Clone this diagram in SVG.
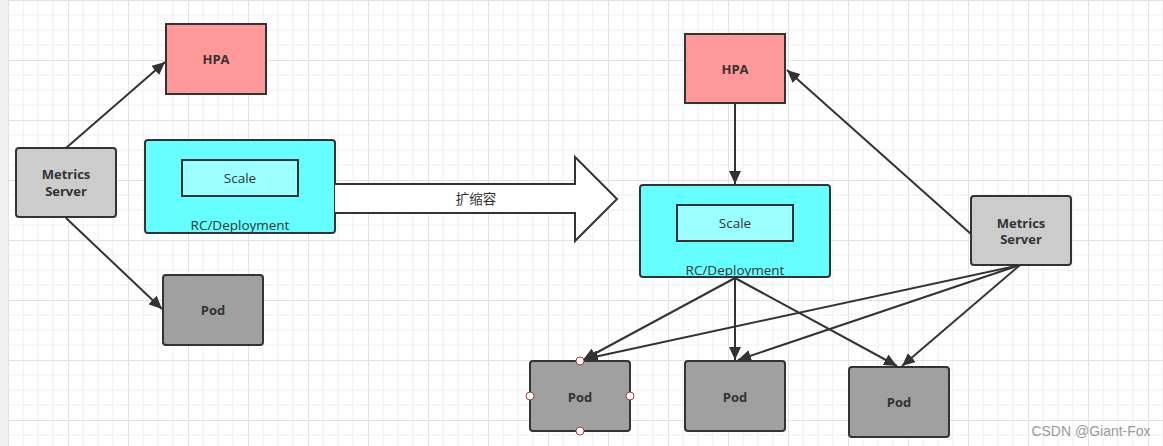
<svg xmlns="http://www.w3.org/2000/svg" width="1163" height="446" viewBox="0 0 1163 446">
<style>
.box{stroke:#333;stroke-width:2}
.hpa{fill:#ff9999}
.ms{fill:#cccccc}
.rc{fill:#66ffff}
.sc{fill:#99ffff}
.pod{fill:#a0a0a0}
.b{font-family:"Open Sans","Liberation Sans","Noto Sans CJK SC",sans-serif;font-size:13px;font-weight:bold;fill:#333;text-anchor:middle}
.n{font-family:"Open Sans","Liberation Sans","Noto Sans CJK SC",sans-serif;font-size:13.5px;fill:#333;text-anchor:middle}
.c{stroke:#333;stroke-width:2;fill:none}
.h{fill:#fff;stroke:#b03a3a;stroke-width:1}
</style>
<defs>
<pattern id="grid" patternUnits="userSpaceOnUse" x="8" y="0" width="60" height="60">
<path d="M15 0V60M30 0V60M45 0V60M0 15H60M0 30H60M0 45H60" stroke="#efefef" stroke-width="1" fill="none"/>
<path d="M0.5 0V60M0 0.5H60" stroke="#e2e2e2" stroke-width="1" fill="none"/>
</pattern>
<marker id="arr" markerUnits="userSpaceOnUse" markerWidth="14" markerHeight="12" refX="13" refY="6" orient="auto">
<path d="M0 0L13 6L0 12Z" fill="#333"/>
</marker>
</defs>
<rect width="1163" height="446" fill="#fff"/>
<rect width="1163" height="446" fill="url(#grid)"/>
<rect x="0" y="0" width="8" height="446" fill="#f0f0f0"/>

<g id="connectors">
<line class="c" x1="66" y1="148" x2="165" y2="62" marker-end="url(#arr)"/>
<line class="c" x1="66" y1="218" x2="162" y2="309" marker-end="url(#arr)"/>
<line class="c" x1="735" y1="103" x2="735" y2="184" marker-end="url(#arr)"/>
<line class="c" x1="971" y1="234" x2="787" y2="70" marker-end="url(#arr)"/>
<line class="c" x1="735" y1="278" x2="583" y2="360" marker-end="url(#arr)"/>
<line class="c" x1="735" y1="278" x2="735" y2="360" marker-end="url(#arr)"/>
<line class="c" x1="735" y1="278" x2="897" y2="366" marker-end="url(#arr)"/>
<line class="c" x1="1020" y1="265" x2="585" y2="359" marker-end="url(#arr)"/>
<line class="c" x1="1020" y1="265" x2="738" y2="360" marker-end="url(#arr)"/>
<line class="c" x1="1020" y1="265" x2="902" y2="366" marker-end="url(#arr)"/>
</g>

<g id="hpa-left"><rect class="box hpa" x="166" y="24" width="100" height="70"/><text class="b" x="216" y="64">HPA</text></g>
<g id="metrics-left"><rect class="box ms" x="16" y="148" width="100" height="69" rx="3"/><text class="b" x="66" y="179">Metrics</text><text class="b" x="66" y="196">Server</text></g>
<g id="rc-left"><rect class="box rc" x="145" y="140" width="190" height="93" rx="3"/><text class="n" x="240" y="230">RC/Deployment</text>
<g id="scale-left"><rect class="box sc" x="182" y="160" width="116" height="36"/><text class="n" x="240" y="183">Scale</text></g></g>
<g id="pod-left"><rect class="box pod" x="163" y="275" width="100" height="70" rx="3"/><text class="b" x="213" y="315">Pod</text></g>

<g id="scale-arrow"><path class="c" d="M335 184H575V157L617 199L575 241V213H335" style="fill:#fff"/><text class="n" x="476" y="204">扩缩容</text></g>

<g id="hpa-right"><rect class="box hpa" x="685" y="34" width="100" height="69"/><text class="b" x="735" y="74">HPA</text></g>
<g id="rc-right"><rect class="box rc" x="640" y="185" width="190" height="92" rx="3"/><text class="n" x="735" y="275">RC/Deployment</text>
<g id="scale-right"><rect class="box sc" x="677" y="205" width="116" height="36"/><text class="n" x="735" y="228">Scale</text></g></g>
<g id="metrics-right"><rect class="box ms" x="971" y="196" width="100" height="69" rx="3"/><text class="b" x="1021" y="228">Metrics</text><text class="b" x="1021" y="244">Server</text></g>
<g id="pod-1"><rect class="box pod" x="530" y="361" width="100" height="70" rx="3"/><text class="b" x="580" y="402">Pod</text>
<circle class="h" cx="580" cy="361" r="4"/><circle class="h" cx="530" cy="396" r="4"/><circle class="h" cx="630" cy="396" r="4"/><circle class="h" cx="580" cy="431" r="4"/></g>
<g id="pod-2"><rect class="box pod" x="685" y="361" width="100" height="70" rx="3"/><text class="b" x="735" y="402">Pod</text></g>
<g id="pod-3"><rect class="box pod" x="849" y="367" width="100" height="70" rx="3"/><text class="b" x="899" y="407">Pod</text></g>
<text x="1091" y="436" font-family="'Liberation Sans',sans-serif" font-size="14" fill="#999" text-anchor="middle">CSDN @Giant-Fox</text>
</svg>
